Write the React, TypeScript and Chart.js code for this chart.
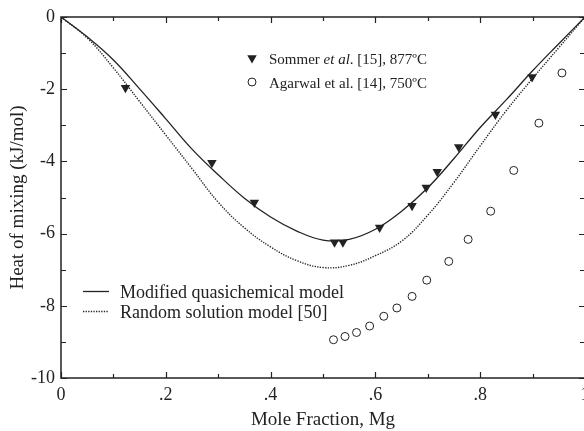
import React, { useEffect, useRef } from 'react';
import { Chart, registerables } from 'chart.js';

Chart.register(...registerables);

// Sommer et al. [15], 877ºC (filled down triangles)
const sommerX = [0.123, 0.288, 0.369, 0.522, 0.538, 0.608, 0.670, 0.697, 0.718, 0.759, 0.829, 0.899];
const sommerY = [-1.96, -4.04, -5.14, -6.24, -6.24, -5.83, -5.23, -4.72, -4.29, -3.60, -2.70, -1.66];

// Agarwal et al. [14], 750ºC (open circles)
const agarwalX = [0.520, 0.542, 0.564, 0.589, 0.616, 0.641, 0.670, 0.698, 0.740, 0.777, 0.820, 0.864, 0.912, 0.956];
const agarwalY = [-8.94, -8.85, -8.74, -8.56, -8.29, -8.06, -7.74, -7.29, -6.77, -6.16, -5.38, -4.25, -2.94, -1.55];

// Model curves, sampled every 0.05 in Mg mole fraction
const modelX = [0, 0.05, 0.1, 0.15, 0.2, 0.25, 0.3, 0.35, 0.4, 0.45, 0.5, 0.55, 0.6, 0.65, 0.7, 0.75, 0.8, 0.85, 0.9, 0.95, 1];
// Modified quasichemical model (solid)
const mqmY = [0, -0.55, -1.19, -1.99, -2.82, -3.66, -4.37, -5.02, -5.54, -5.93, -6.18, -6.16, -5.88, -5.38, -4.73, -3.92, -3.06, -2.29, -1.49, -0.74, 0];
// Random solution model [50] (dotted)
const rsmY = [0, -0.58, -1.41, -2.34, -3.27, -4.20, -5.13, -5.84, -6.37, -6.75, -6.94, -6.88, -6.61, -6.21, -5.49, -4.58, -3.57, -2.59, -1.70, -0.85, 0];

const xTickLabels = ['0', '.2', '.4', '.6', '.8', '1'];
const xTickValues = [0, 0.1, 0.2, 0.3, 0.4, 0.5, 0.6, 0.7, 0.8, 0.9, 1];
const yTickValues = [0, -1, -2, -3, -4, -5, -6, -7, -8, -9, -10];

const seriesLabels = [
  'Sommer et al. [15], 877ºC',
  'Agarwal et al. [14], 750ºC',
  'Modified quasichemical model',
  'Random solution model [50]',
];

const INK = '#222';
const SERIF = '"Liberation Serif", "DejaVu Serif", serif';

const zip = (xs: number[], ys: number[]) => xs.map((x, i) => ({ x, y: ys[i] }));

const framePlugin = {
  id: 'frameTicks',
  afterDatasetsDraw(chart: any) {
    const { ctx, chartArea, scales } = chart;
    const { left, right, top, bottom } = chartArea;
    const xs = scales.x;
    const ys = scales.y;
    ctx.save();
    ctx.strokeStyle = INK;
    ctx.lineWidth = 1.5;
    ctx.strokeRect(left, top, right - left, bottom - top);
    ctx.lineWidth = 1.2;
    ctx.beginPath();
    xTickValues.forEach((v, i) => {
      const px = Math.round(xs.getPixelForValue(v)) + 0.5;
      const len = i % 2 === 0 ? 6 : 4;
      ctx.moveTo(px, bottom);
      ctx.lineTo(px, bottom - len);
      ctx.moveTo(px, top);
      ctx.lineTo(px, top + len);
    });
    yTickValues.forEach((v, i) => {
      const py = Math.round(ys.getPixelForValue(v)) + 0.5;
      const len = i % 2 === 0 ? 6 : 5;
      ctx.moveTo(left, py);
      ctx.lineTo(left + len, py);
      ctx.moveTo(right, py);
      ctx.lineTo(right - len, py);
    });
    ctx.stroke();

    // Upper legend (markers)
    ctx.fillStyle = INK;
    const mx = 252;
    const r = 5.5;
    const ty = 58;
    ctx.beginPath();
    ctx.moveTo(mx - r * Math.sqrt(3) / 2, ty - r / 2);
    ctx.lineTo(mx + r * Math.sqrt(3) / 2, ty - r / 2);
    ctx.lineTo(mx, ty + r);
    ctx.closePath();
    ctx.fill();
    ctx.lineWidth = 1;
    ctx.beginPath();
    ctx.arc(mx, 82, 4, 0, Math.PI * 2);
    ctx.stroke();

    ctx.textBaseline = 'alphabetic';
    ctx.textAlign = 'left';
    const f15 = `15px ${SERIF}`;
    const f15i = `italic 15px ${SERIF}`;
    let tx = 269;
    const parts: [string, string][] = [['Sommer ', f15], ['et al', f15i], ['. [15], 877ºC', f15]];
    parts.forEach(([t, f]) => {
      ctx.font = f;
      ctx.fillText(t, tx, 63.5);
      tx += ctx.measureText(t).width;
    });
    ctx.font = f15;
    ctx.fillText(seriesLabels[1], 269, 88);

    // Lower legend (lines)
    ctx.lineWidth = 1.3;
    ctx.beginPath();
    ctx.moveTo(83, 291.5);
    ctx.lineTo(109, 291.5);
    ctx.stroke();
    ctx.setLineDash([1.3, 1.3]);
    ctx.beginPath();
    ctx.moveTo(83, 311.5);
    ctx.lineTo(109, 311.5);
    ctx.stroke();
    ctx.setLineDash([]);
    ctx.font = `18px ${SERIF}`;
    ctx.fillText(seriesLabels[2], 120, 298);
    ctx.fillText(seriesLabels[3], 120, 318);
    ctx.restore();
  },
};

export default function App() {
  const ref = useRef<HTMLCanvasElement | null>(null);
  useEffect(() => {
    if (!ref.current) return;
    const chart = new Chart(ref.current, {
      type: 'scatter',
      data: {
        datasets: [
          {
            label: seriesLabels[0],
            data: zip(sommerX, sommerY),
            pointStyle: 'triangle',
            rotation: 180,
            pointRadius: 5.5,
            backgroundColor: INK,
            borderColor: INK,
            borderWidth: 0,
          },
          {
            label: seriesLabels[1],
            data: zip(agarwalX, agarwalY),
            pointStyle: 'circle',
            pointRadius: 4,
            backgroundColor: 'rgba(255,255,255,0)',
            borderColor: INK,
            borderWidth: 1,
          },
          {
            label: seriesLabels[2],
            data: zip(modelX, mqmY),
            showLine: true,
            pointRadius: 0,
            borderColor: INK,
            borderWidth: 1.3,
            tension: 0.4,
          },
          {
            label: seriesLabels[3],
            data: zip(modelX, rsmY),
            showLine: true,
            pointRadius: 0,
            borderColor: INK,
            borderWidth: 1.4,
            borderDash: [1.3, 1.3],
            tension: 0.4,
          },
        ],
      },
      options: {
        responsive: false,
        animation: false,
        devicePixelRatio: 1,
        layout: { padding: { left: 0, top: 17, right: 15, bottom: 0 } },
        plugins: { legend: { display: false }, tooltip: { enabled: false } },
        scales: {
          x: {
            type: 'linear',
            min: 0,
            max: 1,
            afterFit: (s: any) => { s.height = 53; },
            grid: { display: false, drawTicks: false },
            border: { display: false },
            ticks: {
              stepSize: 0.2,
              padding: 6,
              color: INK,
              font: { family: SERIF, size: 18 },
              maxRotation: 0,
              callback: (v: any) => xTickLabels[Math.round(Number(v) * 5)] ?? '',
            },
            title: {
              display: true,
              text: 'Mole Fraction, Mg',
              color: INK,
              font: { family: SERIF, size: 19 },
              padding: { top: 0, bottom: 0 },
            },
          },
          y: {
            type: 'linear',
            min: -10,
            max: 0,
            afterFit: (s: any) => { s.width = 61; },
            grid: { display: false, drawTicks: false },
            border: { display: false },
            ticks: {
              stepSize: 2,
              padding: 6,
              color: INK,
              font: { family: SERIF, size: 18 },
            },
            title: {
              display: true,
              text: 'Heat of mixing (kJ/mol)',
              color: INK,
              font: { family: SERIF, size: 19 },
              padding: { top: 7, bottom: 0 },
            },
          },
        },
      },
      plugins: [framePlugin],
    });
    return () => chart.destroy();
  }, []);
  return (
    <div style={{ position: 'fixed', left: 0, top: 0, width: 584, height: 431, overflow: 'hidden', background: '#fff' }}>
      <canvas ref={ref} width={600} height={431} style={{ display: 'block', width: 600, height: 431 }} />
    </div>
  );
}
